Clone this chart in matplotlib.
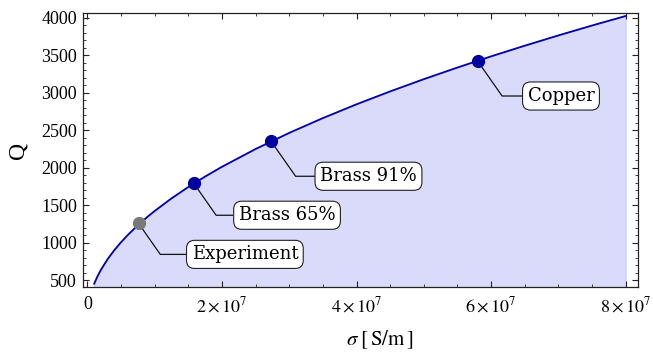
import numpy as np
import matplotlib
matplotlib.use('Agg')
import matplotlib.pyplot as plt
from matplotlib.ticker import MultipleLocator, FuncFormatter

plt.rcParams['font.family'] = ['Liberation Serif', 'DejaVu Serif']
plt.rcParams['mathtext.fontset'] = 'stix'

# Q(sigma) curve, sigma in units of 1e7 S/m
sigma_curve = [0.10, 0.15, 0.20, 0.30, 0.40, 0.50, 0.60, 0.75, 0.90, 1.00,
               1.25, 1.50, 1.75, 2.00, 2.50, 3.00, 3.50, 4.00, 4.50, 5.00,
               5.50, 6.00, 6.50, 7.00, 7.50, 8.00]
q_curve = [450, 551, 636, 779, 899, 1005, 1101, 1231, 1349, 1421,
           1589, 1741, 1880, 2010, 2247, 2462, 2659, 2843, 3015, 3178,
           3333, 3482, 3624, 3761, 3893, 4020]

# labelled materials
names = ['Experiment', 'Brass 65%', 'Brass 91%', 'Copper']
sigma_pts = [0.76, 1.58, 2.73, 5.80]
q_pts = [1255, 1790, 2350, 3420]

x = np.array(sigma_curve) * 1e7
y = np.array(q_curve)

fig = plt.figure(figsize=(6.53, 3.56), dpi=100)
ax = fig.add_axes([0.1266, 0.193, 0.851, 0.7713])

ax.fill_between(x, y, 0, color='#dadbfa', edgecolor='#c9c9f2', lw=0.8, zorder=1)
ax.plot(x, y, color='#0000aa', lw=1.3, zorder=2)

# label boxes, offsets in pixels from the dot (text left edge, box centre)
offsets = [(53, -31), (45, -32), (49, -35), (50, -35)]
for name, s, q, off in zip(names, sigma_pts, q_pts, offsets):
    col = '#787878' if name == 'Experiment' else '#0000a0'
    ax.plot(s * 1e7, q, 'o', ms=8.5, color=col, mec=col, zorder=6)
    ax.annotate(name, xy=(s * 1e7, q), xytext=off, textcoords='offset pixels',
                ha='left', va='center', fontsize=13, family='DejaVu Serif',
                bbox=dict(boxstyle='round,pad=0.28,rounding_size=0.45',
                          fc='white', ec='#222222', lw=0.8),
                arrowprops=dict(arrowstyle='-', color='#111111', lw=0.9,
                                shrinkA=0, shrinkB=0, relpos=(0, 0.5),
                                connectionstyle='angle,angleA=180,angleB=-55,rad=0'),
                zorder=4)

ax.set_xlim(-0.071e7, 8.19e7)
ax.set_ylim(403, 4064)

ax.xaxis.set_major_locator(MultipleLocator(2e7))
ax.xaxis.set_minor_locator(MultipleLocator(0.5e7))
ax.yaxis.set_major_locator(MultipleLocator(500))
ax.yaxis.set_minor_locator(MultipleLocator(100))


def sci(v, pos):
    if abs(v) < 1:
        return '0'
    return r'$%d\times10^{7}$' % round(v / 1e7)


ax.xaxis.set_major_formatter(FuncFormatter(sci))
ax.tick_params(which='both', direction='in', top=True, right=True,
               labelsize=13, colors='#222222', labelcolor='black')
ax.tick_params(which='major', length=4, width=0.8)
ax.tick_params(which='minor', length=2.5, width=0.6)
ax.tick_params(axis='x', pad=6)
ax.tick_params(axis='y', pad=4)
for sp in ax.spines.values():
    sp.set_linewidth(0.9)
    sp.set_color('#222222')

ax.set_xlabel(r'$\sigma\;[\,\mathrm{S/m}\,]$', fontsize=15)
ax.xaxis.set_label_coords(0.535, -0.15)
ax.set_ylabel('Q', fontsize=17)
ax.yaxis.set_label_coords(-0.097, 0.5)

fig.savefig('out.png', dpi=100)
